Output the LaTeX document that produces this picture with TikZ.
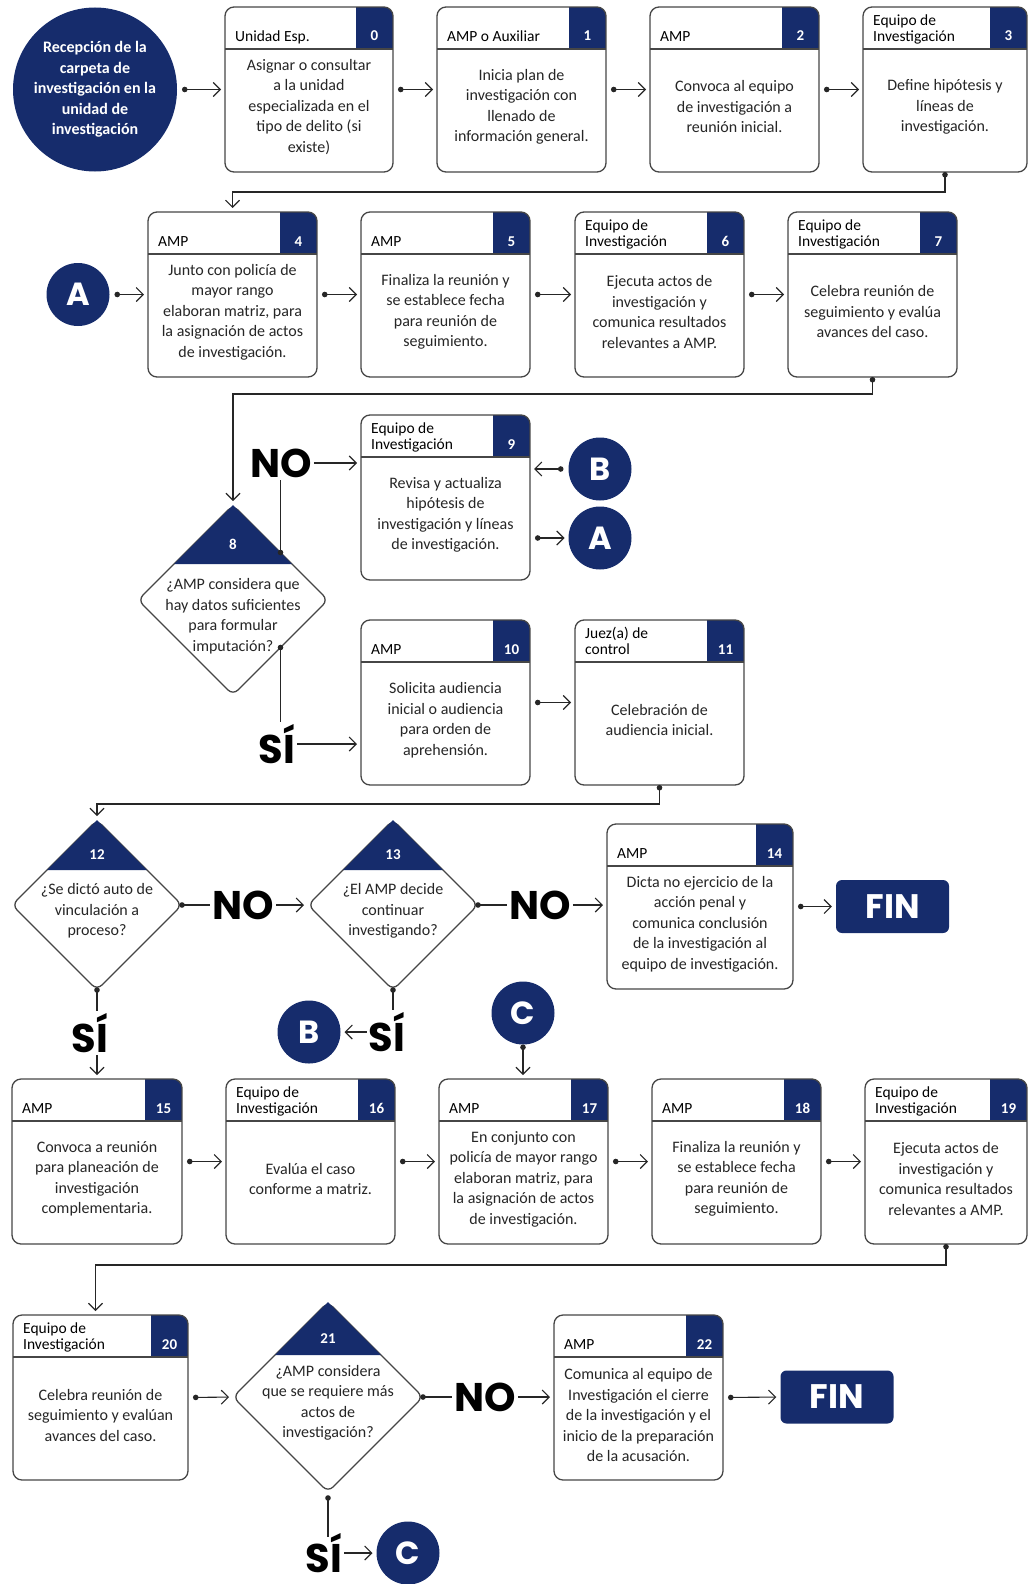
\documentclass[tikz,border=0pt]{standalone}
\usepackage{fontspec}
\setmainfont{Carlito}
\newfontfamily\heavyfont{Poppins}
\usetikzlibrary{arrows.meta,shapes.geometric}
\definecolor{navy}{RGB}{22,44,108}
\definecolor{linegray}{RGB}{70,70,70}

% box with header and number tab: name, x, y (top left), width, header, number, text
\newcommand{\flowbox}[7]{%
  \node[boxbg, minimum width=#4pt, anchor=north west] (#1) at (#2,#3) {};
  \begin{scope}
    \clip[rounded corners=9pt] (#1.south west) rectangle (#1.north east);
    \fill[navy] ([xshift=-37pt]#1.north east) rectangle ([yshift=-42pt]#1.north east);
  \end{scope}
  \draw[boxline] ([yshift=-42pt]#1.north west) -- ([yshift=-42pt]#1.north east);
  \draw[boxline, rounded corners=9pt] (#1.south west) rectangle (#1.north east);
  \node[headtext] (#1-head) at ([xshift=10pt,yshift=-38pt]#1.north west) {#5};
  \node[numtext, anchor=base] (#1-num) at ([xshift=-18.5pt,yshift=-34pt]#1.north east) {#6};
  \node[bodytext] (#1-body) at ([yshift=-17.5pt]#1.center) {#7};
}

\begin{document}
\begin{tikzpicture}[x=1pt,y=-1pt,
  boxbg/.style={rectangle, fill=white, minimum height=165pt, inner sep=0pt, outer sep=0pt},
  boxline/.style={draw=linegray, line width=1.3pt},
  headtext/.style={anchor=south west, inner sep=0pt, align=left, text depth=3.5pt, font=\fontsize{15.5}{15.5}\selectfont},
  numtext/.style={inner sep=0pt, text=white, font=\fontsize{15}{15}\selectfont\bfseries},
  bodytext/.style={inner sep=0pt, align=center, text=black!85, font=\fontsize{16}{20.5}\selectfont},
  decision/.style={diamond, aspect=1, draw=linegray, line width=1.3pt, fill=white, inner sep=0pt, outer sep=0pt, rounded corners=7pt},
  startnode/.style={circle, fill=navy, text=white, minimum size=164pt, inner sep=0pt, outer sep=0pt, align=center, font=\fontsize{16}{20.5}\selectfont\bfseries},
  letterdot/.style={circle, fill=navy, text=white, minimum size=63pt, inner sep=0pt, outer sep=0pt, font=\fontsize{32}{32}\selectfont\heavyfont\bfseries},
  endbox/.style={rectangle, rounded corners=6pt, fill=navy, text=white, minimum width=113pt, minimum height=53pt, inner sep=0pt, font=\fontsize{34}{34}\selectfont\heavyfont\bfseries},
  answer/.style={inner sep=2pt, text=black, font=\fontsize{40}{40}\selectfont\heavyfont\bfseries},
  conn/.style={draw=black!85, line width=1.1pt, {Circle[length=5.5pt]}-{Straight Barb[length=7pt,width=14pt]}, shorten <=5pt, shorten >=4pt},
  dotline/.style={draw=black!85, line width=1.1pt, {Circle[length=5.5pt]}-, shorten <=-2.75pt},
  plainarr/.style={draw=black!85, line width=1.1pt, -{Straight Barb[length=7pt,width=14pt]}, shorten >=4pt}]

\useasboundingbox (0,0) rectangle (1029,1584);

% row 1
\node[startnode] (c0) at (95,89.5) {Recepción de la\\carpeta de\\investigación en la\\unidad de\\investigación};
\flowbox{b0}{225}{7}{168}{Unidad Esp.}{0}{Asignar o consultar\\a la unidad\\especializada en el\\tipo de delito (si\\existe)}
\flowbox{b1}{437}{7}{169}{AMP o Auxiliar}{1}{Inicia plan de\\investigación con\\llenado de\\información general.}
\flowbox{b2}{650}{7}{169}{AMP}{2}{Convoca al equipo\\de investigación a\\reunión inicial.}
\flowbox{b3}{863}{7}{164}{Equipo de\\Investigación}{3}{Define hipótesis y\\líneas de\\investigación.}
\draw[conn] (c0.east) -- (b0.west);
\draw[conn] (b0.east) -- (b1.west);
\draw[conn] (b1.east) -- (b2.west);
\draw[conn] (b2.east) -- (b3.west);

% row 2
\node[letterdot] (cA) at (78,294.5) {A};
\flowbox{b4}{148}{212}{169}{AMP}{4}{Junto con policía de\\mayor rango\\elaboran matriz, para\\la asignación de actos\\de investigación.}
\flowbox{b5}{361}{212}{169}{AMP}{5}{Finaliza la reunión y\\se establece fecha\\para reunión de\\seguimiento.}
\flowbox{b6}{575}{212}{169}{Equipo de\\Investigación}{6}{Ejecuta actos de\\investigación y\\comunica resultados\\relevantes a AMP.}
\flowbox{b7}{788}{212}{169}{Equipo de\\Investigación}{7}{Celebra reunión de\\seguimiento y evalúa\\avances del caso.}
\draw[conn, shorten <=0pt] (b3.south) -- ++(0,20) -| (b4.north);
\draw[conn] (cA.east) -- (b4.west);
\draw[conn] (b4.east) -- (b5.west);
\draw[conn] (b5.east) -- (b6.west);
\draw[conn] (b6.east) -- (b7.west);

% decision 8
\node[decision, minimum size=190pt] (d8) at (233,600) {};
\fill[navy] (d8.north) -- ++(-59,59) -- ++(118,0) -- cycle;
\node[numtext] (d8-num) at ([yshift=-39pt]d8.north) {8};
\node[bodytext] (d8-text) at ([yshift=-16pt]d8.center) {¿AMP considera que\\hay datos suficientes\\para formular\\imputación?};
\draw[conn, shorten <=0pt] (b7.south) -- ++(0,17) -| (d8.north);

\node[answer] (no8) at (281,463) {NO};
\flowbox{b9}{361}{415}{169}{Equipo de\\Investigación}{9}{Revisa y actualiza\\hipótesis de\\investigación y líneas\\de investigación.}
\node[letterdot] (cB) at (600,469) {B};
\node[letterdot] (cA2) at (600,538) {A};
\draw[dotline] (d8.north east) -- (d8.north east |- no8.south);
\draw[plainarr] (no8.east) -- (no8.east -| b9.west);
\draw[conn] (cB.west) -- (cB.west -| b9.east);
\draw[conn] (cA2.west -| b9.east) -- (cA2.west);

\node[answer] (si8) at (277,744) {SÍ};
\flowbox{b10}{361}{620}{169}{AMP}{10}{Solicita audiencia\\inicial o audiencia\\para orden de\\aprehensión.}
\flowbox{b11}{575}{620}{169}{Juez(a) de\\control}{11}{Celebración de\\audiencia inicial.}
\draw[dotline] (d8.south east) -- (d8.south east |- si8.north);
\draw[plainarr] (si8.east) -- (si8.east -| b10.west);
\draw[conn] (b10.east) -- (b11.west);

% decisions 12 and 13
\node[decision, minimum size=170pt] (d12) at (97,905) {};
\fill[navy] (d12.north) -- ++(-50,50) -- ++(100,0) -- cycle;
\node[numtext] (d12-num) at ([yshift=-35pt]d12.north) {12};
\node[bodytext] (d12-text) at ([yshift=-6pt]d12.center) {¿Se dictó auto de\\vinculación a\\proceso?};
\draw[conn, shorten <=0pt] (b11.south) -- ++(0,19) -| (d12.north);

\node[decision, minimum size=170pt] (d13) at (393,905) {};
\fill[navy] (d13.north) -- ++(-50,50) -- ++(100,0) -- cycle;
\node[numtext] (d13-num) at ([yshift=-35pt]d13.north) {13};
\node[bodytext] (d13-text) at ([yshift=-6pt]d13.center) {¿El AMP decide\\continuar\\investigando?};

\node[answer] (no12) at (243,905) {NO};
\draw[dotline] (d12.east) -- (no12.west);
\draw[plainarr] (no12.east) -- (d13.west);

\flowbox{b14}{607}{824}{186}{AMP}{14}{Dicta no ejercicio de la\\acción penal y\\comunica conclusión\\de la investigación al\\equipo de investigación.}
\node[answer] (no13) at (540,905) {NO};
\draw[dotline] (d13.east) -- (no13.west);
\draw[plainarr] (no13.east) -- (no13.east -| b14.west);
\node[endbox] (fin1) at (892.5,906.5) {FIN};
\draw[conn] (b14.east) -- (fin1.west);

% yes branches of 12 and 13
\node[answer] (si12) at (90,1033) {SÍ};
\node[answer] (si13) at (387,1032) {SÍ};
\node[letterdot] (cB2) at (309,1032) {B};
\node[letterdot] (cC) at (523,1013) {C};
\draw[dotline] (d12.south) -- (d12.south |- si12.north);
\draw[dotline] (d13.south) -- (d13.south |- si13.north);
\draw[plainarr] (si13.west) -- (cB2.east);

% row 5
\flowbox{b15}{12}{1079}{170}{AMP}{15}{Convoca a reunión\\para planeación de\\investigación\\complementaria.}
\flowbox{b16}{226}{1079}{169}{Equipo de\\Investigación}{16}{Evalúa el caso\\conforme a matriz.}
\flowbox{b17}{439}{1079}{169}{AMP}{17}{En conjunto con\\policía de mayor rango\\elaboran matriz, para\\la asignación de actos\\de investigación.}
\flowbox{b18}{652}{1079}{169}{AMP}{18}{Finaliza la reunión y\\se establece fecha\\para reunión de\\seguimiento.}
\flowbox{b19}{865}{1079}{162}{Equipo de\\Investigación}{19}{Ejecuta actos de\\investigación y\\comunica resultados\\relevantes a AMP.}
\draw[plainarr] (si12.south -| d12.south) -- (b15.north -| d12.south);
\draw[conn, shorten <=0pt] (cC.south) -- (cC.south |- b17.north);
\draw[conn] (b15.east) -- (b16.west);
\draw[conn] (b16.east) -- (b17.west);
\draw[conn] (b17.east) -- (b18.west);
\draw[conn] (b18.east) -- (b19.west);

% row 6
\flowbox{b20}{13}{1315}{175}{Equipo de\\Investigación}{20}{Celebra reunión de\\seguimiento y evalúan\\avances del caso.}
\draw[conn, shorten <=0pt] (b19.south) -- ++(0,21) -| ([xshift=-5pt]b20.north);

\node[decision, minimum size=190pt] (d21) at (328,1397) {};
\fill[navy] (d21.north) -- ++(-53,53) -- ++(106,0) -- cycle;
\node[numtext] (d21-num) at ([yshift=-37pt]d21.north) {21};
\node[bodytext] (d21-text) at ([yshift=-6pt]d21.center) {¿AMP considera\\que se requiere más\\actos de\\investigación?};
\draw[conn] (b20.east) -- (d21.west);

\flowbox{b22}{554}{1315}{169}{AMP}{22}{Comunica al equipo de\\Investigación el cierre\\de la investigación y el\\inicio de la preparación\\de la acusación.}
\node[answer] (no21) at (485,1397) {NO};
\draw[dotline] (d21.east) -- (no21.west);
\draw[plainarr] (no21.east) -- (no21.east -| b22.west);
\node[endbox] (fin2) at (837,1397) {FIN};
\draw[conn] (b22.east) -- (fin2.west);

\node[answer] (si21) at (324,1553) {SÍ};
\node[letterdot] (cC2) at (408,1553) {C};
\draw[dotline] ([yshift=-6pt]d21.south) -- ([yshift=-6pt]d21.south |- si21.north);
\draw[plainarr] (si21.east) -- (cC2.west);

\end{tikzpicture}
\end{document}
